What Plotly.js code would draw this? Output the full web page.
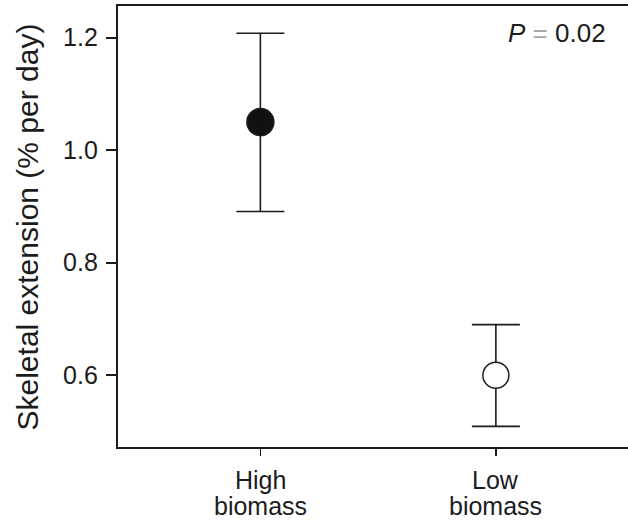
<!DOCTYPE html>
<html>
<head>
<meta charset="utf-8">
<script src="https://cdn.plot.ly/plotly-3.0.1.min.js"></script>
<style>html,body{margin:0;padding:0;background:#fff;}#chart{width:628px;height:525px;}</style>
</head>
<body>
<div id="chart"></div>
<script>
const categories = ["High biomass", "Low biomass"];
const positions = [0, 1];
const means = [1.05, 0.60];
const upper = [1.208, 0.690];
const lower = [0.891, 0.509];
const yTicks = [0.6, 0.8, 1.0, 1.2];
const yTickLabels = ['0.6', '0.8', '1.0', '1.2'];
const yTitle = 'Skeletal extension (% per day)';
const pLabel = "<i>P</i>\u00a0<span style='color:#a8a8a8'>=</span>\u00a00.02";

const plus = means.map((m, i) => upper[i] - m);
const minus = means.map((m, i) => m - lower[i]);
const ink = '#1c1c1c';

function trace(i, fill, size) {
  return {
    type: 'scatter', mode: 'markers',
    x: [positions[i]], y: [means[i]],
    error_y: {type: 'data', symmetric: false, array: [plus[i]], arrayminus: [minus[i]],
              color: ink, thickness: 1.6, width: 24},
    marker: {size: size, color: fill, line: {color: ink, width: 1.5}},
    showlegend: false, hoverinfo: 'skip'
  };
}

const data = [trace(0, '#111111', 27), trace(1, '#ffffff', 26)];

const annotations = [];
categories.forEach((c, i) => {
  const parts = c.split(' ');
  parts.forEach((p, j) => {
    annotations.push({
      xref: 'x', yref: 'paper', x: positions[i], y: 0, xanchor: 'center', yanchor: 'middle',
      yshift: -32.5 - 26 * j, text: p, showarrow: false, font: {size: 25, color: ink}
    });
  });
});
annotations.push({
  xref: 'paper', yref: 'paper', x: -0.1765, y: 0.5, xanchor: 'center', yanchor: 'middle',
  text: yTitle, textangle: -90, showarrow: false, font: {size: 30, color: ink}
});
annotations.push({
  xref: 'paper', yref: 'paper', x: 0.9608, y: 0.9388, xanchor: 'right', yanchor: 'middle',
  text: pLabel, showarrow: false, font: {size: 26, color: ink}
});

const layout = {
  width: 628, height: 525,
  margin: {l: 118, r: 0, t: 6, b: 78},
  paper_bgcolor: '#fff', plot_bgcolor: '#fff',
  font: {family: 'Liberation Sans, Arial, sans-serif', color: ink, size: 25},
  xaxis: {
    range: [-0.6045, 1.561], tickvals: positions, showticklabels: false,
    showgrid: false, zeroline: false, showline: true, linecolor: ink, linewidth: 2.4,
    mirror: true, ticks: 'outside', ticklen: 7, tickwidth: 1.6, tickcolor: ink,
    fixedrange: true
  },
  yaxis: {
    range: [0.4724, 1.2564], tickvals: yTicks, ticktext: yTickLabels,
    showgrid: false, zeroline: false, showline: true, linecolor: ink, linewidth: 2.2,
    ticks: 'outside', ticklen: 10, tickwidth: 1.6, tickcolor: ink,
    ticklabelstandoff: 3,
    tickfont: {size: 25},
    fixedrange: true
  },
  annotations: annotations
};

Plotly.newPlot('chart', data, layout, {displayModeBar: false, staticPlot: true});
</script>
</body>
</html>
